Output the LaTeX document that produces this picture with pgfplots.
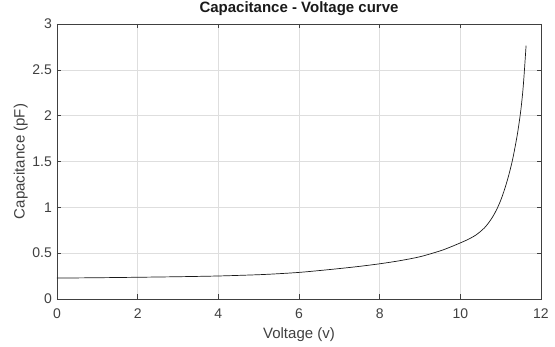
\documentclass[border=0pt]{standalone}
\usepackage{pgfplots}
\pgfplotsset{compat=1.18}
\usepackage{fontspec}
\setmainfont{Liberation Sans}
\definecolor{axgray}{RGB}{64,64,64}
\definecolor{gridgray}{RGB}{222,222,222}
\begin{document}
\begin{tikzpicture}
\path[use as bounding box] (-57pt,-48pt) rectangle (498pt,299pt);
\begin{axis}[
  at={(0,0)}, anchor=south west,
  scale only axis, width=484pt, height=275pt,
  xmin=0, xmax=12, ymin=0, ymax=3,
  xtick={0,2,...,12}, ytick={0,0.5,...,3},
  grid=major, major grid style={gridgray, line width=0.5pt},
  axis line style={axgray, line width=0.6pt},
  tick style={axgray, line width=0.6pt}, major tick length=4.5pt,
  tick align=inside,
  /pgf/number format/assume math mode=true,
  ticklabel style={font=\fontsize{14}{16}\selectfont, text=axgray},
  xticklabel style={inner sep=0pt, yshift=-10pt},
  yticklabel style={inner sep=0pt, xshift=-5pt},
  title={\bfseries Capacitance - Voltage curve},
  title style={font=\fontsize{15}{17}\selectfont, text=black!90, inner sep=0pt, at={(axis description cs:0.5,1.008)}, anchor=south},
  xlabel={Voltage (v)},
  xlabel style={font=\fontsize{15}{17}\selectfont, text=axgray, inner sep=0pt, at={(axis description cs:0.5,-0.105)}, anchor=north},
  ylabel={Capacitance (pF)},
  ylabel style={font=\fontsize{15}{17}\selectfont, text=axgray, inner sep=0pt, at={(axis description cs:-0.06,0.5)}, anchor=south},
]
\addplot[black!90, line width=0.7pt, smooth, tension=0.5] coordinates {
(0,0.228)(1,0.232)(2,0.237)(3,0.243)(4,0.251)(5,0.265)(5.5,0.276)(6,0.29)(6.5,0.31)(7,0.332)(7.5,0.356)(8,0.384)(8.5,0.418)(9,0.461)(9.5,0.525)(9.75,0.566)(10,0.612)(10.1,0.631)(10.2,0.652)(10.3,0.675)(10.4,0.702)(10.5,0.737)(10.6,0.777)(10.7,0.83)(10.8,0.895)(10.9,0.975)(11.0,1.075)(11.1,1.2)(11.2,1.35)(11.3,1.53)(11.4,1.76)(11.45,1.9)(11.5,2.06)(11.55,2.27)(11.59,2.5)(11.63,2.765)
};
\end{axis}
\end{tikzpicture}
\end{document}
